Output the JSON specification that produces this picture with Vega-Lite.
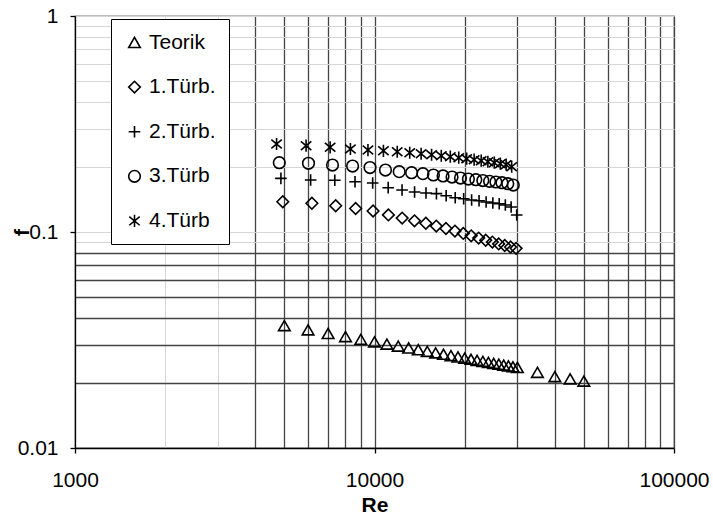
{
  "$schema": "https://vega.github.io/schema/vega-lite/v6.json",
  "autosize": "none",
  "width": 599,
  "height": 432,
  "padding": {"left": 75, "top": 16, "right": 39, "bottom": 68},
  "background": "white",
  "config": {
    "view": {"stroke": "#7a7a7a", "strokeWidth": 1.3},
    "font": "Liberation Sans"
  },
  "data": {
    "values": [
      {"s": "Teorik", "Re": 5000, "f": 0.03688},
      {"s": "Teorik", "Re": 6000, "f": 0.03523},
      {"s": "Teorik", "Re": 7000, "f": 0.03390},
      {"s": "Teorik", "Re": 8000, "f": 0.03279},
      {"s": "Teorik", "Re": 9000, "f": 0.03183},
      {"s": "Teorik", "Re": 10000, "f": 0.03101},
      {"s": "Teorik", "Re": 11000, "f": 0.03028},
      {"s": "Teorik", "Re": 12000, "f": 0.02963},
      {"s": "Teorik", "Re": 13000, "f": 0.02904},
      {"s": "Teorik", "Re": 14000, "f": 0.02851},
      {"s": "Teorik", "Re": 15000, "f": 0.02802},
      {"s": "Teorik", "Re": 16000, "f": 0.02757},
      {"s": "Teorik", "Re": 17000, "f": 0.02716},
      {"s": "Teorik", "Re": 18000, "f": 0.02677},
      {"s": "Teorik", "Re": 19000, "f": 0.02641},
      {"s": "Teorik", "Re": 20000, "f": 0.02608},
      {"s": "Teorik", "Re": 21000, "f": 0.02575},
      {"s": "Teorik", "Re": 22000, "f": 0.02546},
      {"s": "Teorik", "Re": 23000, "f": 0.02518},
      {"s": "Teorik", "Re": 24000, "f": 0.02491},
      {"s": "Teorik", "Re": 25000, "f": 0.02466},
      {"s": "Teorik", "Re": 26000, "f": 0.02442},
      {"s": "Teorik", "Re": 27000, "f": 0.02419},
      {"s": "Teorik", "Re": 28000, "f": 0.02397},
      {"s": "Teorik", "Re": 29000, "f": 0.02377},
      {"s": "Teorik", "Re": 30000, "f": 0.02360},
      {"s": "Teorik", "Re": 35000, "f": 0.0224},
      {"s": "Teorik", "Re": 40000, "f": 0.0214},
      {"s": "Teorik", "Re": 45000, "f": 0.0209},
      {"s": "Teorik", "Re": 50000, "f": 0.0204},

      {"s": "1.Türb.", "Re": 4940, "f": 0.1381},
      {"s": "1.Türb.", "Re": 6180, "f": 0.1358},
      {"s": "1.Türb.", "Re": 7420, "f": 0.1323},
      {"s": "1.Türb.", "Re": 8650, "f": 0.1284},
      {"s": "1.Türb.", "Re": 9890, "f": 0.1251},
      {"s": "1.Türb.", "Re": 11130, "f": 0.1200},
      {"s": "1.Türb.", "Re": 12370, "f": 0.1160},
      {"s": "1.Türb.", "Re": 13600, "f": 0.1126},
      {"s": "1.Türb.", "Re": 14840, "f": 0.1098},
      {"s": "1.Türb.", "Re": 16080, "f": 0.1065},
      {"s": "1.Türb.", "Re": 17320, "f": 0.1038},
      {"s": "1.Türb.", "Re": 18560, "f": 0.1010},
      {"s": "1.Türb.", "Re": 19790, "f": 0.0985},
      {"s": "1.Türb.", "Re": 21030, "f": 0.0960},
      {"s": "1.Türb.", "Re": 22270, "f": 0.0937},
      {"s": "1.Türb.", "Re": 23510, "f": 0.0916},
      {"s": "1.Türb.", "Re": 24750, "f": 0.0898},
      {"s": "1.Türb.", "Re": 25980, "f": 0.0881},
      {"s": "1.Türb.", "Re": 27220, "f": 0.0866},
      {"s": "1.Türb.", "Re": 28460, "f": 0.0852},
      {"s": "1.Türb.", "Re": 29700, "f": 0.0840},

      {"s": "2.Türb.", "Re": 4870, "f": 0.1772},
      {"s": "2.Türb.", "Re": 6120, "f": 0.1740},
      {"s": "2.Türb.", "Re": 7370, "f": 0.1735},
      {"s": "2.Türb.", "Re": 8610, "f": 0.1709},
      {"s": "2.Türb.", "Re": 9860, "f": 0.1686},
      {"s": "2.Türb.", "Re": 11110, "f": 0.1604},
      {"s": "2.Türb.", "Re": 12360, "f": 0.1565},
      {"s": "2.Türb.", "Re": 13610, "f": 0.1532},
      {"s": "2.Türb.", "Re": 14860, "f": 0.1515},
      {"s": "2.Türb.", "Re": 16100, "f": 0.1505},
      {"s": "2.Türb.", "Re": 17350, "f": 0.1472},
      {"s": "2.Türb.", "Re": 18600, "f": 0.1441},
      {"s": "2.Türb.", "Re": 19850, "f": 0.1426},
      {"s": "2.Türb.", "Re": 21100, "f": 0.1406},
      {"s": "2.Türb.", "Re": 22340, "f": 0.1396},
      {"s": "2.Türb.", "Re": 23590, "f": 0.1377},
      {"s": "2.Türb.", "Re": 24840, "f": 0.1362},
      {"s": "2.Türb.", "Re": 26090, "f": 0.1352},
      {"s": "2.Türb.", "Re": 27340, "f": 0.1334},
      {"s": "2.Türb.", "Re": 28590, "f": 0.1306},
      {"s": "2.Türb.", "Re": 29840, "f": 0.1199},

      {"s": "3.Türb", "Re": 4810, "f": 0.2093},
      {"s": "3.Türb", "Re": 6020, "f": 0.2080},
      {"s": "3.Türb", "Re": 7240, "f": 0.2042},
      {"s": "3.Türb", "Re": 8450, "f": 0.2020},
      {"s": "3.Türb", "Re": 9660, "f": 0.1988},
      {"s": "3.Türb", "Re": 10880, "f": 0.1936},
      {"s": "3.Türb", "Re": 12090, "f": 0.1902},
      {"s": "3.Türb", "Re": 13300, "f": 0.1881},
      {"s": "3.Türb", "Re": 14510, "f": 0.1862},
      {"s": "3.Türb", "Re": 15730, "f": 0.1836},
      {"s": "3.Türb", "Re": 16940, "f": 0.1817},
      {"s": "3.Türb", "Re": 18150, "f": 0.1797},
      {"s": "3.Türb", "Re": 19370, "f": 0.1778},
      {"s": "3.Türb", "Re": 20580, "f": 0.1759},
      {"s": "3.Türb", "Re": 21790, "f": 0.1746},
      {"s": "3.Türb", "Re": 23000, "f": 0.1731},
      {"s": "3.Türb", "Re": 24220, "f": 0.1716},
      {"s": "3.Türb", "Re": 25430, "f": 0.1704},
      {"s": "3.Türb", "Re": 26640, "f": 0.1691},
      {"s": "3.Türb", "Re": 27860, "f": 0.1673},
      {"s": "3.Türb", "Re": 29070, "f": 0.1650},

      {"s": "4.Türb", "Re": 4710, "f": 0.2555},
      {"s": "4.Türb", "Re": 5910, "f": 0.2509},
      {"s": "4.Türb", "Re": 7110, "f": 0.2466},
      {"s": "4.Türb", "Re": 8310, "f": 0.2422},
      {"s": "4.Türb", "Re": 9510, "f": 0.2396},
      {"s": "4.Türb", "Re": 10710, "f": 0.2376},
      {"s": "4.Türb", "Re": 11910, "f": 0.2353},
      {"s": "4.Türb", "Re": 13110, "f": 0.2328},
      {"s": "4.Türb", "Re": 14310, "f": 0.2303},
      {"s": "4.Türb", "Re": 15510, "f": 0.2279},
      {"s": "4.Türb", "Re": 16710, "f": 0.2254},
      {"s": "4.Türb", "Re": 17910, "f": 0.2231},
      {"s": "4.Türb", "Re": 19110, "f": 0.2208},
      {"s": "4.Türb", "Re": 20310, "f": 0.2184},
      {"s": "4.Türb", "Re": 21510, "f": 0.2161},
      {"s": "4.Türb", "Re": 22710, "f": 0.2138},
      {"s": "4.Türb", "Re": 23910, "f": 0.2115},
      {"s": "4.Türb", "Re": 25110, "f": 0.2093},
      {"s": "4.Türb", "Re": 26310, "f": 0.2071},
      {"s": "4.Türb", "Re": 27510, "f": 0.2049},
      {"s": "4.Türb", "Re": 28710, "f": 0.2006}
    ]
  },
  "mark": {"type": "point", "filled": false, "stroke": "black", "strokeWidth": 1.6, "size": 135, "opacity": 1},
  "encoding": {
    "x": {
      "field": "Re", "type": "quantitative",
      "scale": {"type": "log", "domain": [1000, 100000], "nice": false},
      "axis": {
        "title": "Re",
        "titleFont": "Liberation Sans", "titleFontSize": 21, "titleFontWeight": "bold", "titleColor": "black",
        "titlePadding": 4,
        "values": [1000, 2000, 3000, 4000, 5000, 6000, 7000, 8000, 9000, 10000, 20000, 30000, 40000, 50000, 60000, 70000, 80000, 90000, 100000],
        "labelExpr": "indexof([1000, 10000, 100000], datum.value) >= 0 ? format(datum.value, 'd') : ''",
        "labelFont": "Liberation Sans", "labelFontSize": 21, "labelColor": "black", "labelPadding": 16,
        "labelFlush": false, "labelOverlap": false,
        "domainColor": "black", "domainWidth": 1.3,
        "tickColor": "black", "tickWidth": 1.3, "tickSize": 5,
        "tickOpacity": {"condition": {"test": "indexof([1000, 10000, 100000], datum.value) >= 0", "value": 1}, "value": 0},
        "grid": true,
        "gridColor": {"condition": {"test": "datum.value >= 4000", "value": "#444444"}, "value": "#d6d6d6"},
        "gridWidth": {"condition": {"test": "datum.value >= 4000", "value": 1.3}, "value": 1}
      }
    },
    "y": {
      "field": "f", "type": "quantitative",
      "scale": {"type": "log", "domain": [0.01, 1], "nice": false},
      "axis": {
        "title": "f",
        "titleFont": "Liberation Sans", "titleFontSize": 21, "titleFontWeight": "bold", "titleColor": "black",
        "titleX": -53, "titleY": 216, "titleAngle": 270, "titleAlign": "center", "titleBaseline": "middle",
        "values": [0.01, 0.02, 0.03, 0.04, 0.05, 0.06, 0.07, 0.08, 0.09, 0.1, 0.2, 0.3, 0.4, 0.5, 0.6, 0.7, 0.8, 0.9, 1],
        "labelExpr": "datum.value == 1 ? '1' : datum.value == 0.1 ? '0.1' : datum.value == 0.01 ? '0.01' : ''",
        "labelFont": "Liberation Sans", "labelFontSize": 21, "labelColor": "black", "labelPadding": 12,
        "labelFlush": false, "labelOverlap": false,
        "domainColor": "black", "domainWidth": 1.3,
        "tickColor": "black", "tickWidth": 1.3, "tickSize": 5,
        "tickOpacity": {"condition": {"test": "datum.value == 1 || datum.value == 0.1 || datum.value == 0.01", "value": 1}, "value": 0},
        "grid": true,
        "gridColor": {"condition": {"test": "datum.value > 0.015 && datum.value < 0.085", "value": "#444444"}, "value": "#d6d6d6"},
        "gridWidth": {"condition": {"test": "datum.value > 0.015 && datum.value < 0.085", "value": 1.3}, "value": 1}
      }
    },
    "shape": {
      "field": "s", "type": "nominal",
      "scale": {
        "domain": ["Teorik", "1.Türb.", "2.Türb.", "3.Türb", "4.Türb"],
        "range": ["triangle-up", "diamond", "M-1,0L1,0M0,-1L0,1", "circle", "M0,-1.05L0,1.05M-0.9,-0.75L0.9,0.75M-0.9,0.75L0.9,-0.75"]
      },
      "legend": {
        "title": null,
        "orient": "none", "legendX": 36, "legendY": 3,
        "direction": "vertical",
        "fillColor": "white", "strokeColor": "black",
        "padding": 13,
        "rowPadding": 22.6,
        "labelFont": "Liberation Sans", "labelFontSize": 21, "labelColor": "black", "labelOffset": 4,
        "symbolSize": 135, "symbolStrokeWidth": 1.6, "symbolStrokeColor": "black", "symbolFillColor": "transparent", "symbolType": "circle"
      }
    }
  }
}
